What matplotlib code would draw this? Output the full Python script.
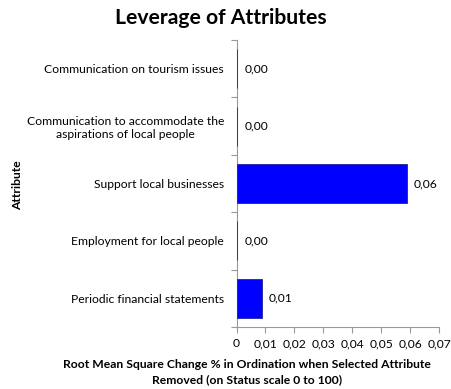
import matplotlib.pyplot as plt
import numpy as np

plt.rcParams['font.family'] = ['Lato', 'DejaVu Sans']

# attributes listed bottom-to-top as drawn
attributes = [
    "Periodic financial statements",
    "Employment for local people",
    "Support local businesses",
    "Communication to accommodate the\naspirations of local people",
    "Communication on tourism issues",
]
rms_change = [0.0088, 0.0003, 0.0588, 0.0003, 0.0003]
x_ticks = [0, 0.01, 0.02, 0.03, 0.04, 0.05, 0.06, 0.07]

fs = 8.7

fig = plt.figure(figsize=(4.51, 3.89), dpi=100)
ax = fig.add_axes([0.5244, 0.1594, 0.449, 0.7376])

y = np.arange(len(attributes))
# bars sit above the axis spine so the near-zero ones still show as thin lines
ax.barh(y, rms_change, height=0.68, color='#0000FF', edgecolor='#22229a', linewidth=0.6, zorder=3)

for yi, v in zip(y, rms_change):
    ax.annotate(f"{v:.2f}".replace('.', ','), xy=(v, yi), xytext=(5, 0), textcoords='offset points',
                va='center', ha='left', fontsize=fs)

ax.set_xlim(0, 0.07)
ax.set_ylim(-0.5, len(attributes) - 0.5)
ax.set_xticks(x_ticks)
ax.set_xticklabels(["0"] + [f"{t:.2f}".replace('.', ',') for t in x_ticks[1:]], fontsize=fs)
ax.set_yticks(np.arange(-0.5, len(attributes), 1.0))
ax.set_yticklabels([])
ax.set_yticks(y, minor=True)
ax.set_yticklabels(attributes, minor=True, fontsize=fs, ha='right', multialignment='center')
ax.tick_params(axis='y', which='minor', length=0, pad=9)
ax.tick_params(axis='y', which='major', length=4, color='#999999')
ax.tick_params(axis='x', length=4, color='#999999', pad=4)

for s in ['top', 'right']:
    ax.spines[s].set_visible(False)
for s in ['left', 'bottom']:
    ax.spines[s].set_color('#999999')
    ax.spines[s].set_linewidth(0.8)

fig.text(0.49, 0.955, "Leverage of Attributes", ha='center', va='center', fontsize=15.2, fontweight='bold')
fig.text(0.04, 0.525, "Attribute", rotation=90, ha='center', va='center', fontsize=fs, fontweight='bold')
fig.text(0.548, 0.044, "Root Mean Square Change % in Ordination when Selected Attribute\nRemoved (on Status scale 0 to 100)",
         ha='center', va='center', fontsize=fs, fontweight='bold', linespacing=1.5)

plt.savefig("out.png", dpi=100)
